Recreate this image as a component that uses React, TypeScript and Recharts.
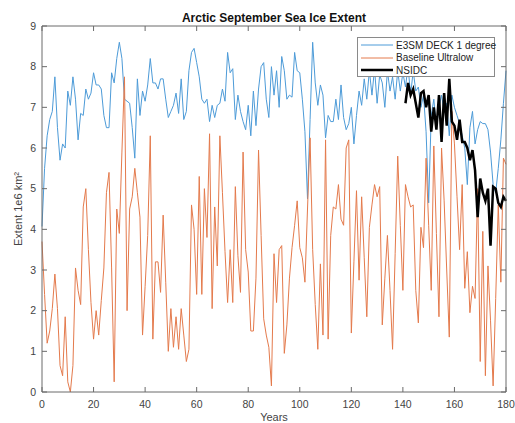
import React from "react";
import { Line, LineChart, XAxis, YAxis } from "recharts";

// yearly values, years 0..180
const e3sm = [
  4.07, 5.5, 6.3, 6.7, 6.9, 7.75, 6.5, 5.7, 6.1, 6.0,
  7.4, 7.05, 7.75, 7.2, 6.2, 6.85, 6.8, 7.45, 7.2, 7.35,
  7.85, 7.55, 7.55, 7.45, 6.8, 6.5, 6.5, 7.85, 7.6, 8.2,
  8.6, 8.2, 7.2, 7.15, 7.1, 6.5, 5.75, 7.7, 6.8, 7.4,
  7.15, 7.55, 8.2, 7.6, 7.6, 7.45, 7.7, 7.7, 7.2, 6.75,
  6.9, 7.05, 7.35, 6.85, 7.7, 6.7, 6.9, 7.9, 8.35, 8.45,
  8.1, 7.75, 7.2, 7.1, 7.2, 6.65, 7.05, 6.75, 7.05, 7.1,
  7.45, 7.15, 8.35, 7.85, 7.95, 6.7, 7.3, 6.9, 6.65, 6.45,
  7.05, 6.3, 7.4, 6.55, 7.45, 8.0, 8.1, 7.2, 6.75, 8.0,
  7.3, 7.9, 7.0, 8.25, 7.9, 7.2, 7.3, 7.25, 8.35, 7.9,
  7.85, 7.2, 6.4, 4.75, 6.7, 8.6, 7.6, 7.05, 7.55, 7.3,
  6.25, 6.8, 6.65, 6.65, 7.2, 6.7, 7.55, 6.75, 6.45, 6.6,
  7.0, 6.1, 6.8, 7.4, 7.05, 7.7, 7.2, 7.9, 7.3, 7.95,
  7.1, 7.8, 7.6, 7.0, 7.9, 7.4, 7.75, 7.2, 7.9, 7.4,
  7.85, 7.5, 8.0, 7.3, 7.9, 7.4, 7.5, 7.0, 7.3, 6.4,
  4.65, 6.8, 7.2, 6.5, 7.0, 7.3, 6.9, 7.1, 6.3, 7.3,
  7.0, 6.8, 6.6, 6.3, 6.0, 5.1, 6.5, 6.9, 6.1, 6.45,
  6.65, 6.6, 6.6, 6.45, 5.9, 5.1, 4.9, 5.5, 6.2, 7.1,
  7.9,
];

const ultralow = [
  3.7, 2.4, 1.2, 1.5, 2.05, 2.9, 2.05, 0.65, 0.4, 1.85,
  0.25, 0.0, 0.65, 3.05, 2.5, 2.15, 4.55, 5.0, 3.5, 2.2,
  1.3, 2.0, 1.4, 2.25, 3.05, 4.9, 5.4, 3.05, 0.25, 4.5,
  3.9, 5.9, 7.75, 2.0, 4.5, 4.8, 5.5, 4.9, 4.3, 1.4,
  2.6, 3.85, 6.3, 1.3, 3.2, 3.2, 2.45, 4.35, 2.7, 1.0,
  2.05, 1.1, 1.85, 1.05, 2.05, 1.4, 0.75, 1.05, 4.6, 4.0,
  2.4, 5.3, 2.4, 5.0, 3.8, 6.35, 2.05, 4.55, 3.1, 6.3,
  4.9, 3.45, 2.2, 3.5, 2.2, 5.05, 3.35, 2.45, 5.9, 3.5,
  2.95, 1.5, 1.5, 2.8, 5.95, 3.85, 1.8, 1.4, 1.1, 0.15,
  3.4, 2.2, 3.5, 3.6, 0.95, 1.65, 2.8, 3.55, 4.1, 4.7,
  3.55, 3.3, 2.7, 4.5, 6.25, 3.5, 2.15, 1.05, 3.15, 1.4,
  6.2, 1.3, 3.85, 4.55, 4.5, 5.1, 4.25, 4.1, 6.0, 6.2,
  1.45, 3.2, 4.95, 2.75, 4.8, 3.3, 1.85, 4.05, 4.6, 5.1,
  4.8, 5.05, 1.65, 2.8, 3.85, 2.5, 1.05, 3.4, 5.8, 4.1,
  2.5, 5.1, 4.8, 4.55, 4.6, 2.5, 1.7, 4.05, 3.55, 5.75,
  4.1, 2.5, 6.05, 3.9, 1.85, 6.0, 4.7, 3.0, 1.35, 6.9,
  6.1, 4.8, 3.5, 5.1, 2.55, 3.45, 1.95, 2.6, 2.3, 5.0,
  0.75, 3.95, 0.4, 3.1, 1.75, 0.15, 2.3, 4.6, 2.7, 5.75,
  5.6,
];

// observations start at year 141
const nsidcStart = 141;
const nsidc = [
  7.1, 7.6, 7.3, 7.45, 7.1, 6.75, 7.35, 7.4, 7.0, 7.3,
  6.4, 7.0, 6.45, 7.3, 6.15, 7.35, 6.55, 7.7, 6.65, 6.55,
  6.2, 6.7, 6.15, 6.15, 6.0, 5.7, 5.95, 5.45, 4.3, 5.25,
  4.9, 4.7, 5.0, 3.6, 5.05, 5.0, 4.65, 4.55, 4.8, 4.7,
];

const xTicks = [0, 20, 40, 60, 80, 100, 120, 140, 160, 180];
const yTicks = [0, 1, 2, 3, 4, 5, 6, 7, 8, 9];

const seriesNames = ["E3SM DECK 1 degree", "Baseline Ultralow", "NSIDC"];
const blue = "#4d9bd8";
const orange = "#e47a4c";
const black = "#000000";

const axisColor = "#6a6a6a";
const textColor = "#444444";
const font = "'Liberation Sans', Arial, Helvetica, sans-serif";

const data = e3sm.map((v, i) => ({
  year: i,
  e3sm: v,
  ultralow: ultralow[i],
  nsidc: i >= nsidcStart ? nsidc[i - nsidcStart] : null,
}));

const BottomTick = ({ x, y, payload }: any) => (
  <g>
    <line x1={x} x2={x} y1={y} y2={y - 5} stroke={axisColor} />
    <text x={x} y={y + 16} textAnchor="middle" fontSize={10.5} fill={textColor} fontFamily={font}>
      {payload.value}
    </text>
  </g>
);

const TopTick = ({ x, y }: any) => <line x1={x} x2={x} y1={y} y2={y + 5} stroke={axisColor} />;

const LeftTick = ({ x, y, payload }: any) => (
  <g>
    <line x1={x} x2={x + 5} y1={y} y2={y} stroke={axisColor} />
    <text x={x - 6} y={y} dy="0.36em" textAnchor="end" fontSize={10.5} fill={textColor} fontFamily={font}>
      {payload.value}
    </text>
  </g>
);

const RightTick = ({ x, y }: any) => <line x1={x} x2={x - 5} y1={y} y2={y} stroke={axisColor} />;

const LegendRow = ({ color, width, name }: { color: string; width: number; name: string }) => (
  <div style={{ display: "flex", alignItems: "center", height: 12.5 }}>
    <svg width={36} height={12} style={{ flex: "none" }}>
      <line x1={3} x2={35} y1={6} y2={6} stroke={color} strokeWidth={width} />
    </svg>
    <span style={{ marginLeft: 2, fontSize: 10, color: "#222", whiteSpace: "nowrap" }}>{name}</span>
  </div>
);

export default function App() {
  return (
    <div style={{ position: "absolute", left: 0, top: 0, width: 515, height: 423, background: "#fff", fontFamily: font }}>
      <LineChart width={515} height={423} data={data} margin={{ top: 0, right: 0, bottom: 0, left: 0 }}>
        <XAxis
          dataKey="year"
          type="number"
          domain={[0, 180]}
          ticks={xTicks}
          interval={0}
          height={31}
          tickSize={0}
          tickMargin={0}
          tickLine={false}
          axisLine={{ stroke: axisColor }}
          tick={<BottomTick />}
          label={({ viewBox }: any) => (
            <text
              x={viewBox.x + viewBox.width / 2}
              y={viewBox.y + viewBox.height - 2.5}
              textAnchor="middle"
              fontSize={11}
              fill={textColor}
              fontFamily={font}
            >
              Years
            </text>
          )}
        />
        <XAxis
          xAxisId="top"
          orientation="top"
          dataKey="year"
          type="number"
          domain={[0, 180]}
          allowDataOverflow
          ticks={xTicks}
          interval={0}
          height={26}
          tickSize={0}
          tickMargin={0}
          tickLine={false}
          axisLine={{ stroke: axisColor }}
          tick={<TopTick />}
        />
        <YAxis
          type="number"
          domain={[0, 9]}
          ticks={yTicks}
          interval={0}
          width={42}
          tickSize={0}
          tickMargin={0}
          tickLine={false}
          axisLine={{ stroke: axisColor }}
          tick={<LeftTick />}
          label={({ viewBox }: any) => {
            const cx = viewBox.x + 22;
            const cy = viewBox.y + viewBox.height / 2;
            return (
              <text
                x={cx}
                y={cy}
                transform={`rotate(-90 ${cx} ${cy})`}
                textAnchor="middle"
                fontSize={11}
                fill={textColor}
                fontFamily={font}
              >
                Extent 1e6 km²
              </text>
            );
          }}
        />
        <YAxis
          yAxisId="right"
          orientation="right"
          type="number"
          domain={[0, 9]}
          allowDataOverflow
          ticks={yTicks}
          interval={0}
          width={9}
          tickSize={0}
          tickMargin={0}
          tickLine={false}
          axisLine={{ stroke: axisColor }}
          tick={<RightTick />}
        />
        <Line type="linear" dataKey="e3sm" name={seriesNames[0]} stroke={blue} strokeWidth={1} dot={false} isAnimationActive={false} />
        <Line type="linear" dataKey="ultralow" name={seriesNames[1]} stroke={orange} strokeWidth={1} dot={false} isAnimationActive={false} />
        <Line
          type="linear"
          dataKey="nsidc"
          name={seriesNames[2]}
          stroke={black}
          strokeWidth={2.5}
          dot={false}
          connectNulls={false}
          isAnimationActive={false}
        />
      </LineChart>
      <div
        style={{
          position: "absolute",
          left: 42,
          width: 464,
          top: 11,
          textAlign: "center",
          fontSize: 12,
          lineHeight: "14px",
          fontWeight: "bold",
          color: "#111",
        }}
      >
        Arctic September Sea Ice Extent
      </div>
      <div
        style={{
          position: "absolute",
          left: 357,
          top: 37,
          width: 138,
          height: 40,
          boxSizing: "border-box",
          border: "1px solid #8a8a8a",
          background: "#fff",
          paddingTop: 1,
        }}
      >
        <LegendRow color={blue} width={1} name={seriesNames[0]} />
        <LegendRow color={orange} width={1} name={seriesNames[1]} />
        <LegendRow color={black} width={2.5} name={seriesNames[2]} />
      </div>
    </div>
  );
}
